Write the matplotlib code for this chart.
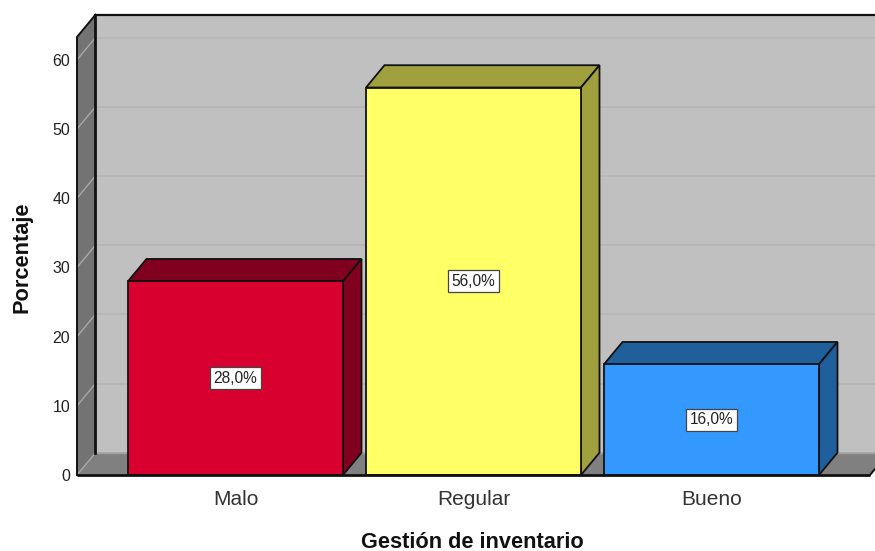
import matplotlib
matplotlib.use('Agg')
import matplotlib.pyplot as plt
from matplotlib.patches import Polygon

categorias = ['Malo', 'Regular', 'Bueno']
porcentajes = [28.0, 56.0, 16.0]
etiquetas = ['28,0%', '56,0%', '16,0%']
colores = ['#d8002f', '#ffff66', '#3399ff']
colores_osc = ['#82001f', '#a0a03e', '#1f5f9c']
ticks_y = [0, 10, 20, 30, 40, 50, 60]

W, H = 875, 551
plt.rcParams['font.family'] = ['Liberation Sans', 'DejaVu Sans']

fig = plt.figure(figsize=(W / 100, H / 100), dpi=100)
# frente del grafico en pixeles: x 77-870, y 37-475
ax = fig.add_axes([77 / W, (H - 475) / H, (870 - 77) / W, (475 - 37) / H])
ymax = 63.3
xmin, xmax = -0.666, 2.666
ax.set_xlim(xmin, xmax)
ax.set_ylim(0, ymax)

# profundidad del efecto 3D en unidades de datos
dx = 18.5 / 238
dy = 22.3 / (438 / ymax)
ancho = 215 / 238
borde = '#111111'


def poly(pts, fc, ec='none', lw=0, z=1):
    ax.add_patch(Polygon(pts, closed=True, fc=fc, ec=ec, lw=lw, zorder=z, clip_on=False))


# paredes
poly([(xmin + dx, dy), (xmax + dx, dy), (xmax + dx, ymax + dy), (xmin + dx, ymax + dy)], '#c0c0c0', z=1)
poly([(xmin, 0), (xmin + dx, dy), (xmin + dx, ymax + dy), (xmin, ymax)], '#737373', z=1)
poly([(xmin, 0), (xmax, 0), (xmax + dx, dy), (xmin + dx, dy)], '#808080', z=1)

# lineas de la cuadricula
for t in ticks_y:
    if t > 0:
        ax.plot([xmin + dx, xmax + dx], [t + dy, t + dy], color='#b4b4b4', lw=1.1, zorder=2, clip_on=False)
    ax.plot([xmin, xmin + dx], [t, t + dy], color='#a8a8a8', lw=1.0, zorder=2, clip_on=False)
ax.plot([xmin + dx, xmax + dx], [dy, dy], color='#a0a0a0', lw=1.0, zorder=2, clip_on=False)

# bordes del cubo
ax.plot([xmin + dx, xmin + dx], [dy, ymax + dy], color=borde, lw=2, zorder=3, clip_on=False)
ax.plot([xmin + dx, xmax + dx], [ymax + dy, ymax + dy], color=borde, lw=1.6, zorder=3, clip_on=False)
ax.plot([xmin, xmin, xmin + dx], [0, ymax, ymax + dy], color=borde, lw=1.4, zorder=3, clip_on=False)
ax.plot([xmax, xmax + dx], [0, dy], color=borde, lw=1.4, zorder=3, clip_on=False)

# barras
for i, v in enumerate(porcentajes):
    x0, x1 = i - ancho / 2, i + ancho / 2
    ax.bar(i, v, width=ancho, color=colores[i], edgecolor=borde, linewidth=1.3, zorder=5)
    poly([(x0, v), (x1, v), (x1 + dx, v + dy), (x0 + dx, v + dy)], colores_osc[i], ec=borde, lw=1.3, z=4)
    poly([(x1, 0), (x1 + dx, dy), (x1 + dx, v + dy), (x1, v)], colores_osc[i], ec=borde, lw=1.3, z=4)
    ax.text(i, v / 2, etiquetas[i], ha='center', va='center', fontsize=11.2, color='#222222', zorder=6,
            bbox=dict(boxstyle='square,pad=0.22', fc='white', ec='#444444', lw=0.9))

ax.plot([xmin, xmax], [0, 0], color=borde, lw=2, zorder=6, clip_on=False, solid_capstyle='butt')

for s in ax.spines.values():
    s.set_visible(False)
ax.patch.set_visible(False)
ax.set_xticks(range(len(categorias)))
ax.set_xticklabels(categorias, fontsize=15, color='#333333')
ax.set_yticks(ticks_y)
ax.set_yticklabels([str(t) for t in ticks_y], fontsize=11.5, color='#222222')
ax.tick_params(axis='x', length=0, pad=11)
ax.tick_params(axis='y', length=0, pad=5)

fig.text(472 / W, 1 - 542 / H, 'Gestión de inventario', ha='center', va='center',
         fontsize=15.7, fontweight='bold', color='#111111')
fig.text(22 / W, 1 - 257 / H, 'Porcentaje', ha='center', va='center', rotation=90,
         fontsize=15.7, fontweight='bold', color='#111111')

fig.savefig('out.png', dpi=100)
